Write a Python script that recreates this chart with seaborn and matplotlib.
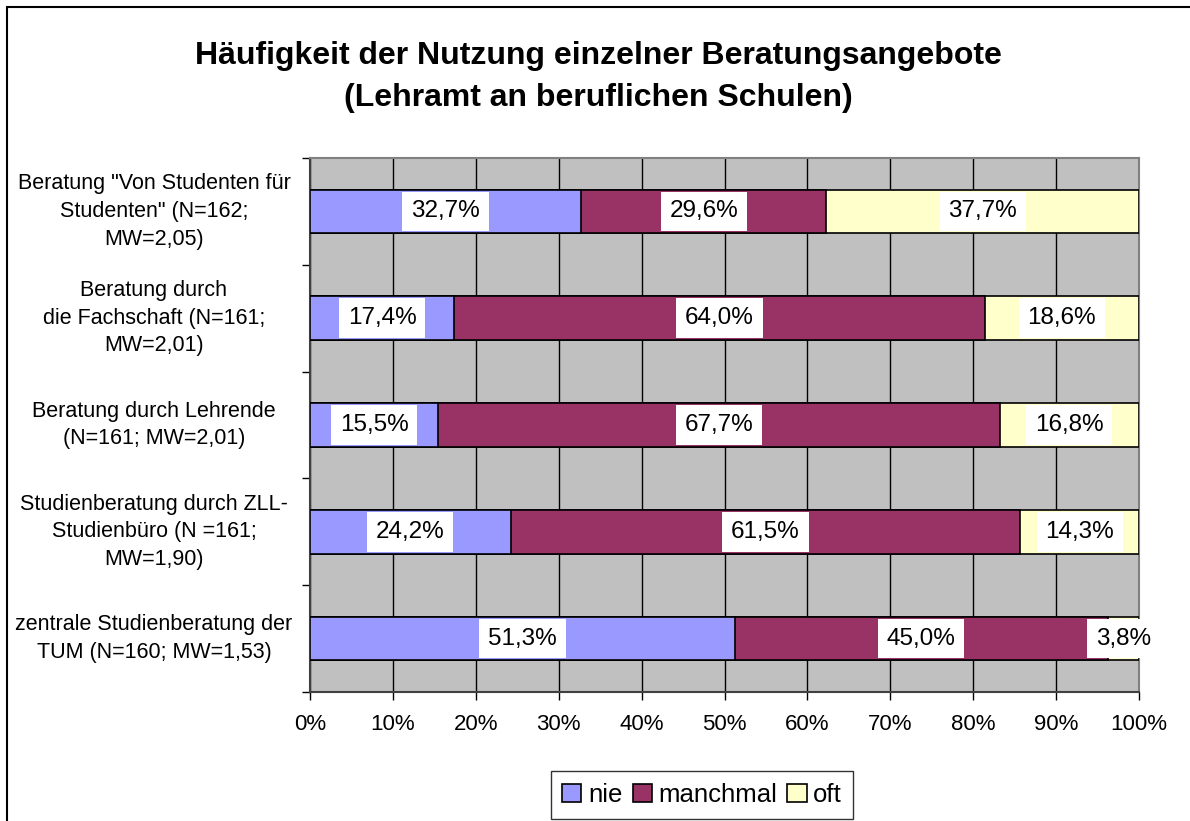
import matplotlib
matplotlib.use("Agg")
import matplotlib.pyplot as plt
import matplotlib.patches as mpatches
import seaborn as sns
import pandas as pd
import numpy as np

categories = [
    "Beratung \"Von Studenten für\nStudenten\" (N=162;\nMW=2,05)",
    "Beratung durch\ndie Fachschaft (N=161;\nMW=2,01)",
    "Beratung durch Lehrende\n(N=161; MW=2,01)",
    "Studienberatung durch ZLL-\nStudienbüro (N =161;\nMW=1,90)",
    "zentrale Studienberatung der\nTUM (N=160; MW=1,53)",
]
nie = [32.7, 17.4, 15.5, 24.2, 51.3]
manchmal = [29.6, 64.0, 67.7, 61.5, 45.0]
oft = [37.7, 18.6, 16.8, 14.3, 3.8]
series_names = ["nie", "manchmal", "oft"]
colors = ["#9999FF", "#993366", "#FFFFCC"]
xticks = [0, 10, 20, 30, 40, 50, 60, 70, 80, 90, 100]

sns.set_theme(style="white")
plt.rcParams["font.family"] = ["Liberation Sans", "DejaVu Sans"]
plt.rcParams["text.color"] = "black"
plt.rcParams["xtick.color"] = "black"
plt.rcParams["ytick.color"] = "black"
plt.rcParams["xtick.labelcolor"] = "black"

df = pd.DataFrame({"cat": categories, "nie": nie, "manchmal": manchmal, "oft": oft})
tot = df[series_names].sum(axis=1)
for s in series_names:
    df[s + "_n"] = df[s] / tot * 100
df["c1"] = df["nie_n"]
df["c2"] = df["nie_n"] + df["manchmal_n"]
df["c3"] = df["c2"] + df["oft_n"]

fig = plt.figure(figsize=(11.9, 8.21), dpi=100)
ax = fig.add_axes([310 / 1190, 1 - 692 / 821, 829 / 1190, (692 - 158) / 821])
ax.set_facecolor("#C0C0C0")

bar_w = 0.41
for col, c in zip(["c3", "c2", "c1"], [colors[2], colors[1], colors[0]]):
    sns.barplot(data=df, x=col, y="cat", orient="h", color=c, width=bar_w,
                edgecolor="black", linewidth=1.2, ax=ax, saturation=1, zorder=3)

ax.set_xlim(0, 100)
ax.set_ylim(4.5, -0.5)
ax.set_xlabel("")
ax.set_ylabel("")

ax.set_xticks(xticks)
ax.set_xticklabels([f"{v}%" for v in xticks], fontsize=16, color="black")
ax.xaxis.grid(True, color="black", linewidth=1)
ax.set_axisbelow(True)
ax.tick_params(axis="x", direction="out", length=6, width=1, color="black", pad=10, bottom=True)

ax.set_yticks(np.arange(-0.5, 5, 1))
ax.set_yticklabels([])
ax.tick_params(axis="y", direction="out", length=6, width=1, color="black", left=True)

for sp in ["top", "right"]:
    ax.spines[sp].set_color("#808080")
    ax.spines[sp].set_linewidth(1.5)
for sp in ["left", "bottom"]:
    ax.spines[sp].set_color("#404040")
    ax.spines[sp].set_linewidth(1.5)

trans = ax.get_yaxis_transform()
for i, cat in enumerate(categories):
    ax.text(-156 / 829, i, cat, transform=trans, ha="center", va="center",
            fontsize=15.5, linespacing=1.42, color="black")

for i in range(len(categories)):
    starts = [0, df["c1"][i], df["c2"][i]]
    vals = [nie[i], manchmal[i], oft[i]]
    widths = [df["nie_n"][i], df["manchmal_n"][i], df["oft_n"][i]]
    for st, w, v in zip(starts, widths, vals):
        ax.text(st + w / 2, i, f"{v:.1f}%".replace(".", ","), ha="center", va="center",
                fontsize=17.5, zorder=5, color="black",
                bbox=dict(boxstyle="square,pad=0.36", facecolor="white", edgecolor="none"))

fig.text(598 / 1190, 1 - 77 / 821,
         "Häufigkeit der Nutzung einzelner Beratungsangebote\n(Lehramt an beruflichen Schulen)",
         ha="center", va="center", fontsize=23, fontweight="bold", linespacing=1.55, color="black")

handles = [mpatches.Patch(facecolor=c, edgecolor="black", linewidth=1.2, label=n)
           for c, n in zip(colors, series_names)]
leg = fig.legend(handles=handles, loc="center", bbox_to_anchor=(702 / 1190, 1 - 795 / 821),
                 ncol=3, frameon=True, fontsize=18.5, handlelength=0.75, handleheight=0.75,
                 handletextpad=0.25, columnspacing=0.4, borderpad=0.45, fancybox=False)
leg.get_frame().set_edgecolor("black")
leg.get_frame().set_linewidth(1)

border = mpatches.Rectangle((7 / 1190, -0.1), 1.2, 1 - 7 / 821 + 0.1, transform=fig.transFigure,
                            fill=False, edgecolor="black", linewidth=1.5)
fig.patches.append(border)

fig.savefig("out.png", dpi=100, facecolor="white")
